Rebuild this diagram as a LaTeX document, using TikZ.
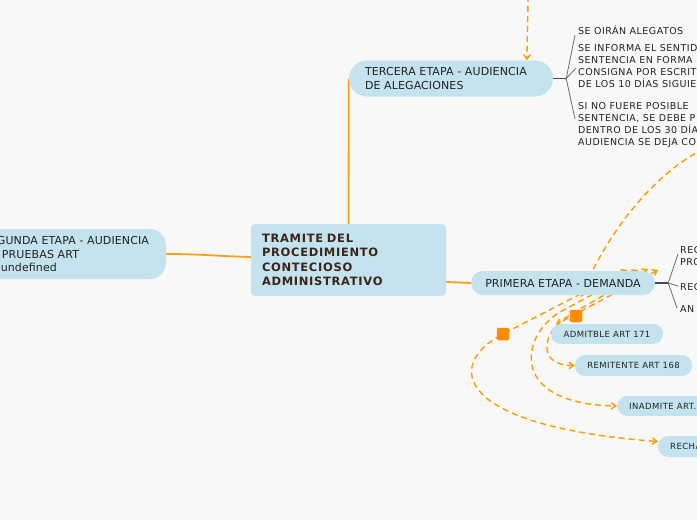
\documentclass[tikz,border=0pt]{standalone}
\usepackage{fontspec}
\setmainfont{DejaVu Sans}
\newfontfamily\stagefont[LetterSpace=1]{DejaVu Sans}
\newfontfamily\leaffont[LetterSpace=5]{DejaVu Sans}
\newfontfamily\chfont[LetterSpace=5]{DejaVu Sans}
\newfontfamily\cfont[LetterSpace=6]{DejaVu Sans}
\usetikzlibrary{arrows.meta}
\definecolor{bgc}{HTML}{F8F8F8}
\definecolor{nodeblue}{HTML}{C4E3EF}
\definecolor{mmorange}{HTML}{FF9A00}
\definecolor{solidorange}{HTML}{F7A11A}
\definecolor{sqorange}{HTML}{FF8C00}
\definecolor{txt}{HTML}{222222}
\definecolor{ctxt}{HTML}{3A2518}
\definecolor{fanc}{HTML}{6E6E6E}
\definecolor{stubc}{HTML}{4A4A4A}
\pgfdeclarelayer{back}
\pgfdeclarelayer{edges}
\pgfsetlayers{back,edges,main}
\begin{document}
\begin{tikzpicture}[x=1pt,y=-1pt,
  central/.style={fill=nodeblue, rounded corners=4pt, minimum width=195pt, minimum height=72pt,
    inner xsep=11pt, inner ysep=0pt, text width=173pt, align=left,
    font=\cfont\bfseries\fontsize{11.5}{14.3}\selectfont, text=ctxt},
  stage/.style={fill=nodeblue, inner xsep=16pt, inner ysep=0pt, align=left,
    font=\stagefont\fontsize{11}{13.5}\selectfont, text=txt},
  childbox/.style={fill=nodeblue, rounded corners=10pt, minimum height=20pt, inner xsep=12pt, inner ysep=0pt,
    font=\chfont\fontsize{8.5}{10}\selectfont, text=txt},
  leaf/.style={anchor=north west, inner sep=0pt, align=left,
    font=\leaffont\fontsize{9.5}{12}\selectfont, text=txt, execute at begin node={\rule{0pt}{9pt}}},
  conn/.style={draw=solidorange, line width=1.8pt},
  rel/.style={draw=mmorange, line width=1.4pt, dash pattern=on 6pt off 4pt,
    -{Straight Barb[length=4.5pt,width=6.5pt]}},
  relboth/.style={rel, {Straight Barb[length=4.5pt,width=6.5pt]}-{Straight Barb[length=4.5pt,width=6.5pt]}},
  stubline/.style={draw=stubc, line width=1.8pt},
  fanline/.style={draw=fanc, line width=0.8pt},
  sq/.style={fill=sqorange, minimum size=12.5pt, inner sep=0pt, rounded corners=2pt}
]
\useasboundingbox (0,0) rectangle (697,520);
\begin{pgfonlayer}{back}
\fill[bgc] (0,0) rectangle (697,520);
\end{pgfonlayer}
\clip (0,0) rectangle (697,520);

% main nodes
\node[central] (c) at (348.5,260) {TRAMITE DEL\\PROCEDIMIENTO\\CONTECIOSO\\ADMINISTRATIVO};
\node[stage, minimum width=204pt, minimum height=36pt, rounded corners=18pt, text width=172pt] (t) at (451,78.5)
  {TERCERA ETAPA - AUDIENCIA\\DE ALEGACIONES};
\node[stage, anchor=east, minimum height=50pt, rounded corners=16pt, inner xsep=14pt, text width=169pt,
  font=\stagefont\fontsize{11}{13.7}\selectfont] (s) at (166,254)
  {SEGUNDA ETAPA - AUDIENCIA\\DE PRUEBAS ART\\\hspace*{18pt}undefined};
\node[stage, minimum width=184pt, minimum height=24pt, rounded corners=12pt, inner xsep=10pt, align=center] (p) at (563,283)
  {PRIMERA ETAPA - DEMANDA};

% children of PRIMERA
\node[childbox, minimum width=112pt] (adm) at (607,334) {ADMITBLE ART 171};
\node[childbox, minimum width=117pt, minimum height=21pt] (rem) at (633.5,365.5) {REMITENTE ART 168};
\node[childbox, anchor=west] (inad) at (617,406) {INADMITE ART.};
\node[childbox, anchor=west, minimum height=21pt] (rech) at (658,446.5) {RECHAZA};

% leaves of TERCERA
\node[leaf] (l1) at (578,25.3) {SE OIRÁN ALEGATOS};
\node[leaf] (l2) at (578,44.3) {SE INFORMA EL SENTIDO\\SENTENCIA EN FORMA\\CONSIGNA POR ESCRITO\\DE LOS 10 DÍAS SIGUIENTES};
\node[leaf] (l3) at (578,102.3) {SI NO FUERE POSIBLE\\SENTENCIA, SE DEBE P\\DENTRO DE LOS 30 DÍAS\\AUDIENCIA SE DEJA CO};

% leaves of PRIMERA
\node[leaf] (pa) at (680,246.3) {REC\\PRO};
\node[leaf] (pb) at (680,281.3) {REC};
\node[leaf] (pc) at (680,303.3) {AN};

% stubs and fans
\draw[stubline] (t.east) -- ++(13,0) coordinate (tf);
\draw[stubline] (p.east) -- ++(13,0) coordinate (pf);
\draw[fanline] ([xshift=-3pt,yshift=-5pt]l1.west) -- (tf) -- ([xshift=-2pt,yshift=-2pt]l2.west);
\draw[fanline] (tf) -- ([xshift=-3pt,yshift=6pt]l3.west);
\draw[fanline] ([xshift=-2pt,yshift=2pt]pa.west) -- (pf) -- ([xshift=-2pt]pb.west);
\draw[fanline] (pf) -- ([xshift=-3pt]pc.west);

% relationship handles
\node[sq] (q1) at (503,334) {};
\node[sq] (q2) at (576,316) {};

\coordinate (ra) at (658,270);
\coordinate (rb) at (648,269);
\coordinate (rc) at (638,270);
\coordinate (rd) at (627,270);
\coordinate (ae) at (556,324.5);
\coordinate (lt) at (704,149);
\coordinate (le) at (581,297);
\coordinate (tt) at (528,-4);

\begin{pgfonlayer}{edges}
% solid connectors
\draw[conn] (c.north) -- (t.west);
\draw[conn] ([yshift=3pt]c.west) .. controls (215,256) and (200,254) .. (s.east);
\draw[conn] ([yshift=-22pt]c.east) -- (p.west);
% dashed relationships
\draw[rel] (tt) .. controls (528,20) and (527,40) .. ([xshift=76pt]t.north);
\draw[rel] (lt) .. controls (655,172) and (605,235) .. (le);
\draw[relboth] (ra) -- (ae);
\draw[relboth] (rb) -- (565,318) .. controls (545,331) and (534,365) .. (rem.west);
\draw[relboth] (rc) -- (560,312) .. controls (520,336) and (508,404) .. (inad.west);
\draw[relboth] (rd) -- (q1.center) .. controls (445,364) and (452,426) .. ([yshift=5pt]rech.west);
\end{pgfonlayer}
\end{tikzpicture}
\end{document}
